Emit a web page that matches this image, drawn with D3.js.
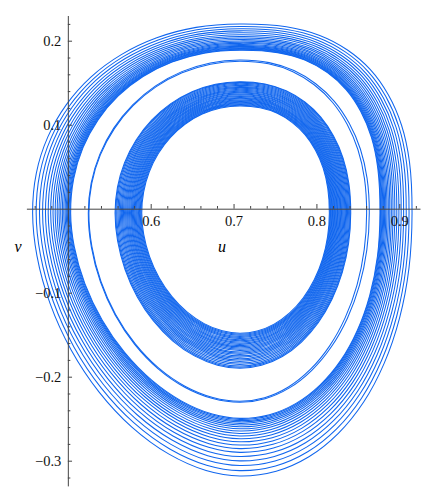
<!DOCTYPE html>
<html>
<head>
<meta charset="utf-8">
<script src="https://cdn.jsdelivr.net/npm/d3@7"></script>
<style>
  html, body { margin: 0; padding: 0; background: #fff; }
  svg { display: block; }
  svg text { font-family: "Liberation Serif", "Times New Roman", serif !important; }
</style>
</head>
<body>
<svg id="chart" width="435" height="500"></svg>
<script>
// ---------- data ----------
const uDomain = [0.45, 0.925];
const vDomain = [-0.33, 0.23];
const uMajorTicks = [0.6, 0.7, 0.8, 0.9];
const uTickLabels = ["0.6", "0.7", "0.8", "0.9"];
const vMajorTicks = [0.2, 0.1, -0.1, -0.2, -0.3];
const vTickLabels = ["0.2", "0.1", "\u22120.1", "\u22120.2", "\u22120.3"];
const axisLabels = ["u", "v"];

// centre of the orbits (u, v)
const orbitCentre = [0.7076, -0.005];

// normalised outline of the large outer orbits (egg shaped)
const outerShape = [
  [0, 1], [0.270, 0.985], [0.464, 0.939], [0.625, 0.862], [0.758, 0.758], [0.862, 0.625], [0.939, 0.464], [0.985, 0.270], [1, 0],
  [0.982, -0.211], [0.927, -0.401], [0.838, -0.572], [0.719, -0.719], [0.572, -0.838], [0.401, -0.927], [0.211, -0.982], [0, -1],
  [-0.163, -0.979], [-0.344, -0.916], [-0.521, -0.814], [-0.680, -0.680], [-0.814, -0.521], [-0.916, -0.344], [-0.979, -0.163], [-1, 0],
  [-0.982, 0.211], [-0.927, 0.401], [-0.838, 0.572], [-0.719, 0.719], [-0.572, 0.838], [-0.401, 0.927], [-0.211, 0.982]
];
// normalised outline of the inner orbits (closer to an ellipse)
const innerShape = [
  [0, 1], [0.226, 0.983], [0.418, 0.931], [0.586, 0.845], [0.730, 0.730], [0.845, 0.586], [0.931, 0.418], [0.983, 0.226], [1, 0],
  [0.981, -0.195], [0.924, -0.383], [0.831, -0.556], [0.707, -0.707], [0.556, -0.831], [0.383, -0.924], [0.195, -0.981], [0, -1],
  [-0.179, -0.980], [-0.364, -0.920], [-0.539, -0.823], [-0.694, -0.694], [-0.823, -0.539], [-0.920, -0.364], [-0.980, -0.179], [-1, 0],
  [-0.981, 0.195], [-0.924, 0.383], [-0.831, 0.556], [-0.707, 0.707], [-0.556, 0.831], [-0.383, 0.924], [-0.195, 0.981]
];

// half extents [left, right, top, bottom] of the edge orbits of each band
const outerBandOutside = [0.2501, 0.2078, 0.2249, 0.3132];
const outerBandInside  = [0.2042, 0.1691, 0.1937, 0.2446];
const middleOutside    = [0.1829, 0.1562, 0.1820, 0.2255];
const middleInside     = [0.1822, 0.1530, 0.1805, 0.2243];
const innerBandOutside = [0.1506, 0.1338, 0.1562, 0.1850];
const innerBandInside  = [0.1184, 0.1080, 0.1273, 0.1433];

// bottom v of each loop (read at u ~ 0.71)
const outerBandBottoms = [-0.3182, -0.3118, -0.3058, -0.3002, -0.2950, -0.2901, -0.2856, -0.2814, -0.2775,
  -0.2739, -0.2706, -0.2675, -0.2646, -0.2620, -0.2596, -0.2575, -0.2556, -0.2538, -0.2523, -0.2508, -0.2496];
const middleBottoms = [-0.2305, -0.2293];
const innerBandBottoms = [-0.1900, -0.1888, -0.1873, -0.1855, -0.1837, -0.1819, -0.1802, -0.1786, -0.1769,
  -0.1752, -0.1736, -0.1720, -0.1705, -0.1689, -0.1674, -0.1658, -0.1644, -0.1630, -0.1615, -0.1601,
  -0.1587, -0.1573, -0.1560, -0.1546, -0.1533, -0.1520, -0.1507, -0.1495, -0.1483];

// ---------- drawing ----------
const svg = d3.select("#chart");
const x = d3.scaleLinear().domain(uDomain).range([26.4, 420]);
const y = d3.scaleLinear().domain(vDomain).range([485.9, 15.5]);

const lineColor = "#1166ee";
const axisColor = "#444";
const serif = "Liberation Serif, Times New Roman, serif";

function bandLoops(bottoms, outside, inside, shape) {
  return bottoms.map(b => {
    const B = orbitCentre[1] - b;
    const t = (B - inside[3]) / (outside[3] - inside[3]);
    const ext = inside.map((e, i) => e + t * (outside[i] - e));
    ext[3] = B;
    return shape.map(([nx, ny]) => [
      orbitCentre[0] + nx * (nx < 0 ? ext[0] : ext[1]),
      orbitCentre[1] + ny * (ny > 0 ? ext[2] : ext[3])
    ]);
  });
}

const loops = [
  ...bandLoops(outerBandBottoms, outerBandOutside, outerBandInside, outerShape),
  ...bandLoops(middleBottoms, middleOutside, middleInside, innerShape),
  ...bandLoops(innerBandBottoms, innerBandOutside, innerBandInside, innerShape)
];

const line = d3.line()
  .x(d => x(d[0]))
  .y(d => y(d[1]))
  .curve(d3.curveCatmullRomClosed.alpha(0.5));

svg.append("g")
  .selectAll("path")
  .data(loops)
  .join("path")
  .attr("d", line)
  .attr("fill", "none")
  .attr("stroke", lineColor)
  .attr("stroke-width", 1.05);

// minor ticks
const uMinor = d3.range(23, 47).map(k => +(k * 0.02).toFixed(2))
  .filter(t => Math.abs(t * 10 - Math.round(t * 10)) > 1e-6);
const vMinor = d3.range(-16, 12).map(k => +(k * 0.02).toFixed(2))
  .filter(t => Math.abs(t * 10 - Math.round(t * 10)) > 1e-6);

const y0 = y(0), x0 = x(0.5);

// u axis
const uAxisG = svg.append("g").attr("transform", `translate(0,${y0})`);
uAxisG.append("g").call(
  d3.axisBottom(x).tickValues(uMinor).tickSize(-2.7).tickSizeOuter(0).tickFormat("")
).call(g => g.select(".domain").remove());
uAxisG.append("g").call(
  d3.axisBottom(x).tickValues(uMajorTicks).tickSize(-4.7).tickSizeOuter(0).tickPadding(7.5)
    .tickFormat((d, i) => uTickLabels[i])
).attr("font-family", serif).attr("font-size", 14.5);

// v axis
const vAxisG = svg.append("g").attr("transform", `translate(${x0},0)`);
vAxisG.append("g").call(
  d3.axisLeft(y).tickValues(vMinor).tickSize(-2.5).tickSizeOuter(0).tickFormat("")
).call(g => g.select(".domain").remove());
vAxisG.append("g").call(
  d3.axisLeft(y).tickValues(vMajorTicks).tickSize(-4.2).tickSizeOuter(0).tickPadding(6.5)
    .tickFormat((d, i) => vTickLabels[i])
).attr("font-family", serif).attr("font-size", 14.5);

svg.selectAll(".domain, .tick line").attr("stroke", axisColor).attr("stroke-width", 1);
svg.selectAll(".tick text").attr("fill", "#111");

// axis titles
svg.append("text")
  .attr("x", 222).attr("y", 251.5)
  .attr("text-anchor", "middle")
  .attr("font-family", serif)
  .attr("font-style", "italic")
  .attr("font-size", 16)
  .text(axisLabels[0]);
svg.append("text")
  .attr("x", 18).attr("y", 251.5)
  .attr("text-anchor", "middle")
  .attr("font-family", serif)
  .attr("font-style", "italic")
  .attr("font-size", 16)
  .text(axisLabels[1]);
</script>
</body>
</html>
